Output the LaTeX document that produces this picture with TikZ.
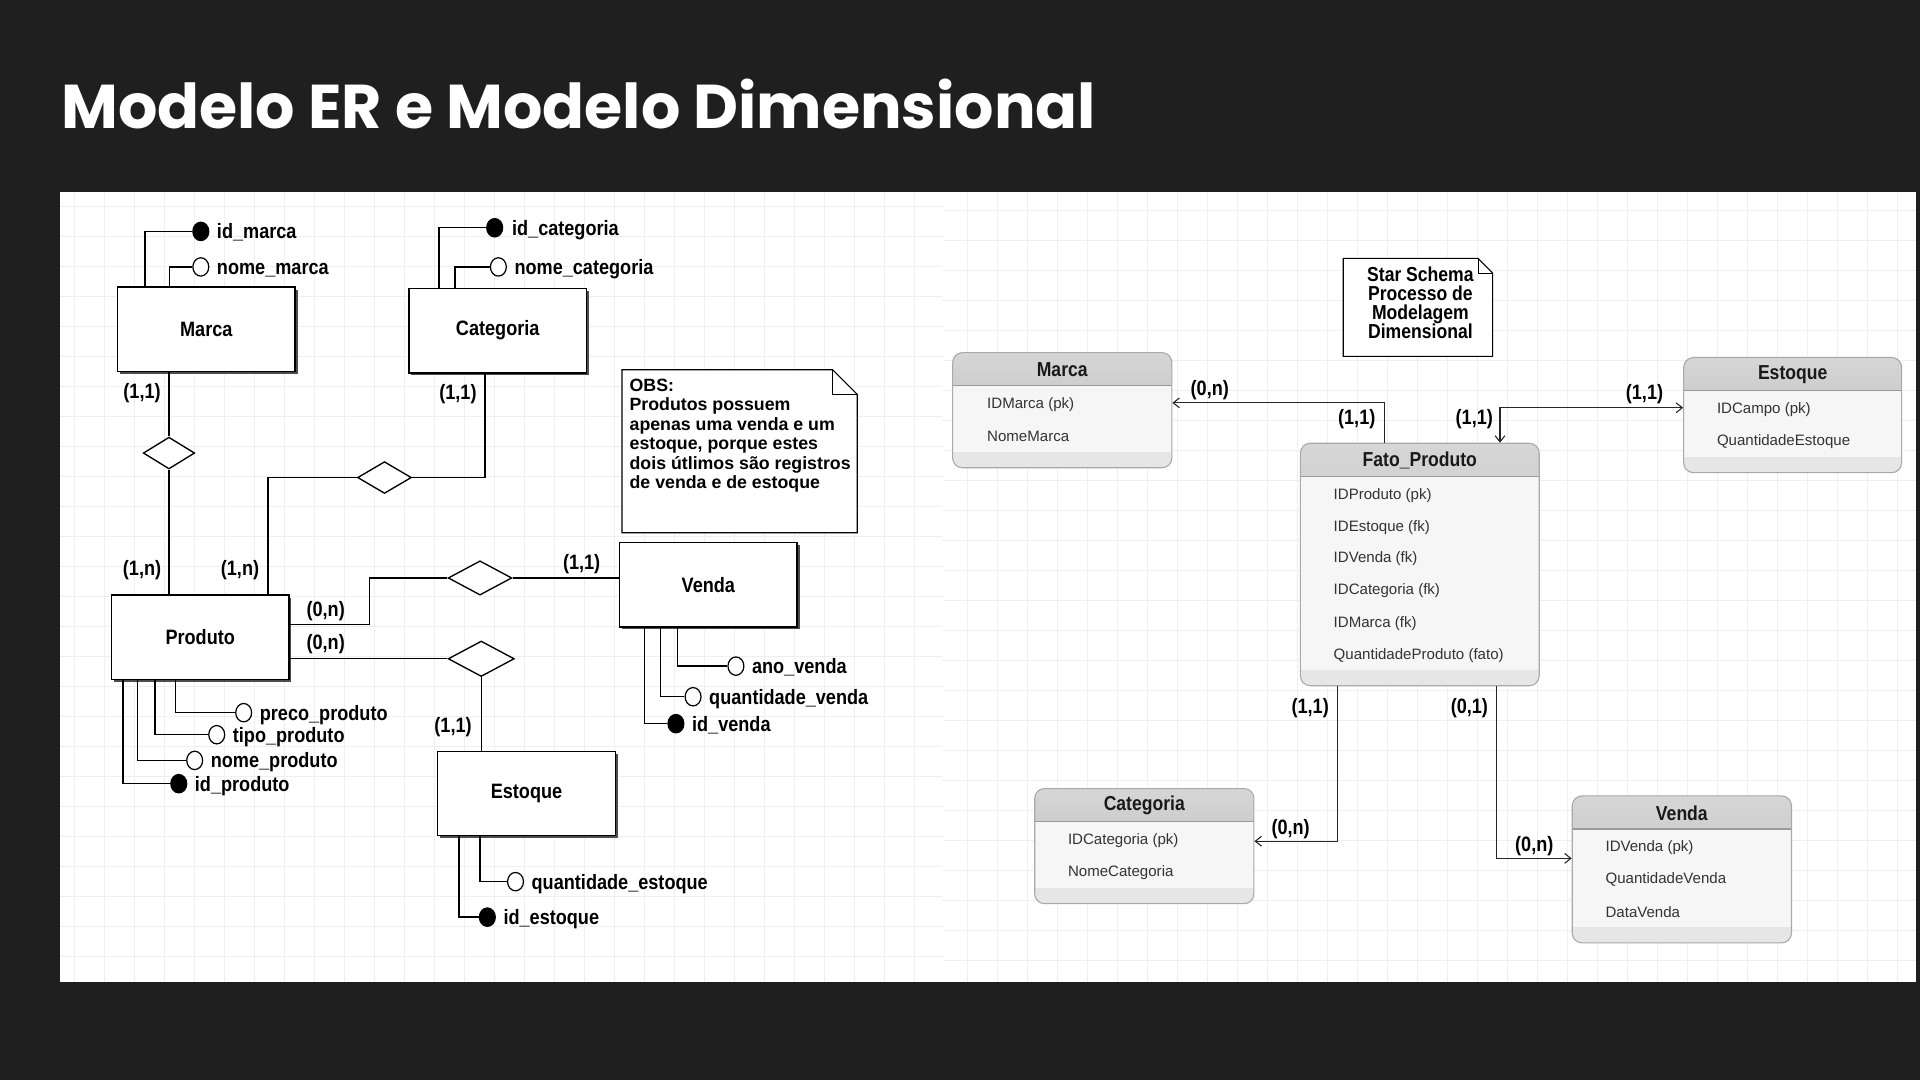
\documentclass[tikz,border=0pt]{standalone}
\usepackage{fontspec}
\setmainfont{Liberation Sans}
\newfontfamily\titlefont{Poppins}
\newfontfamily\erfont{Liberation Sans}[FakeStretch=0.87]
\newfontfamily\tabfont{Liberation Sans}
\usetikzlibrary{shapes.geometric,arrows.meta,shadows}
\definecolor{bgdark}{HTML}{1F1F1F}
\definecolor{gridl}{HTML}{EFEFEF}
\definecolor{gridr}{HTML}{EBF0F6}
\definecolor{tabborder}{HTML}{A9A9A9}
\definecolor{tabbody}{HTML}{F6F6F6}
\definecolor{hdtop}{HTML}{D6D6D6}
\definecolor{hdbot}{HTML}{B8B8B8}
\definecolor{hdline}{HTML}{999999}
\definecolor{tabfoot}{HTML}{E6E6E6}
\definecolor{rowtext}{HTML}{333333}
\tikzset{
  erfnt/.style={font=\erfont\bfseries\fontsize{17}{20}\selectfont},
  erbox/.style={draw, fill=white, line width=1.1pt, minimum width=145pt, minimum height=69pt,
    inner sep=0pt, erfnt,
    drop shadow={shadow xshift=2pt, shadow yshift=-2pt, fill=black!70, opacity=1}},
  erline/.style={draw=black, line width=1.1pt},
  attro/.style={ellipse, draw, fill=white, line width=1pt, minimum width=13pt, minimum height=15pt, inner sep=0pt},
  attrf/.style={attro, fill=black},
  attrtxt/.style={anchor=mid west, inner sep=0pt, erfnt, yshift=-3.5pt},
  card/.style={inner sep=0pt, erfnt},
  reln/.style={diamond, draw, fill=white, line width=1.1pt, inner sep=0pt},
  notetxt/.style={inner sep=0pt, align=left, anchor=north west,
    font=\bfseries\fontsize{14.5}{15.8}\selectfont},
  dimtab/.style={draw=tabborder, line width=0.9pt, rounded corners=8pt, fill=tabbody, inner sep=0pt,
    path picture={
      \shade[sharp corners, top color=hdtop, bottom color=hdbot]
        (path picture bounding box.north west) rectangle ([yshift=-27pt]path picture bounding box.north east);
      \draw[sharp corners, hdline, line width=1.2pt]
        ([yshift=-27pt]path picture bounding box.north west) -- ([yshift=-27pt]path picture bounding box.north east);
      \fill[sharp corners, tabfoot]
        ([yshift=13pt]path picture bounding box.south west) rectangle (path picture bounding box.south east);
    }},
  tabtitle/.style={inner sep=0pt, font=\erfont\bfseries\fontsize{16.5}{18}\selectfont, text=black!90},
  tabrow/.style={inner sep=0pt, anchor=west, text=rowtext, yshift=-1.5pt, font=\tabfont\fontsize{12.3}{14}\selectfont},
  arr/.style={draw=black!85, line width=0.9pt, -{Straight Barb[length=5pt,width=8pt]}},
  arrboth/.style={draw=black!85, line width=0.9pt, {Straight Barb[length=5pt,width=8pt]}-{Straight Barb[length=5pt,width=8pt]}}
}
\begin{document}
\begin{tikzpicture}[x=1pt,y=-1pt]
\useasboundingbox (0,0) rectangle (1568,882);
\fill[bgdark] (0,0) rectangle (1568,882);
\node[anchor=base west, text=white, inner sep=0pt, font=\titlefont\bfseries\fontsize{50.5}{56}\selectfont] (title) at (50,105) {Modelo ER e Modelo Dimensional};
% panel
\fill[white] (49,157) rectangle (1565,802);
\foreach \k in {0,...,28} \draw[gridl, line width=0.8pt] ({61+\k*24.5},157) -- ({61+\k*24.5},802);
\foreach \k in {0,...,25} \draw[gridl, line width=0.8pt] (49,{169+\k*24.5}) -- (770,{169+\k*24.5});
\foreach \k in {0,...,31} \draw[gridr, line width=0.8pt] ({790+\k*24.5},157) -- ({790+\k*24.5},802);
\foreach \k in {0,...,25} \draw[gridr, line width=0.8pt] (770,{172+\k*24.5}) -- (1565,{172+\k*24.5});

% ===== ER model =====
\node[erbox] (marca) at (168.5,269) {Marca};
\node[attrf] (idm) at (164,189) {};
\node[attrtxt] (idmt) at (177,189) {id\_marca};
\node[attro] (nm) at (164,218) {};
\node[attrtxt] (nmt) at (177,218) {nome\_marca};
\draw[erline] ([xshift=23pt]marca.north west) |- (idm.west);
\draw[erline] ([xshift=43pt]marca.north west) |- (nm.west);

\node[erbox] (cat) at (406.5,270) {Categoria};
\node[attrf] (idc) at (404,186) {};
\node[attrtxt] (idct) at (418,186) {id\_categoria};
\node[attro] (nc) at (407,218) {};
\node[attrtxt] (nct) at (420,218) {nome\_categoria};
\draw[erline] ([xshift=25pt]cat.north west) |- (idc.west);
\draw[erline] ([xshift=38pt]cat.north west) |- (nc.west);

\node[erbox] (prod) at (163.5,520.5) {Produto};
\node[attro] (pp) at (199,582) {};
\node[attrtxt] (ppt) at (212,582) {preco\_produto};
\node[attro] (tp) at (177,600) {};
\node[attrtxt] (tpt) at (190,600) {tipo\_produto};
\node[attro] (np) at (159,621) {};
\node[attrtxt] (npt) at (172,621) {nome\_produto};
\node[attrf] (ip) at (146,640) {};
\node[attrtxt] (ipt) at (159,640) {id\_produto};
\draw[erline] ([xshift=53pt]prod.south west) |- (pp.west);
\draw[erline] ([xshift=36pt]prod.south west) |- (tp.west);
\draw[erline] ([xshift=22pt]prod.south west) |- (np.west);
\draw[erline] ([xshift=10pt]prod.south west) |- (ip.west);

\node[erbox] (venda) at (578.5,477.5) {Venda};
\node[attro] (av) at (601,544) {};
\node[attrtxt] (avt) at (614,544) {ano\_venda};
\node[attro] (qv) at (566,569) {};
\node[attrtxt] (qvt) at (579,569) {quantidade\_venda};
\node[attrf] (iv) at (552,591) {};
\node[attrtxt] (ivt) at (565,591) {id\_venda};
\draw[erline] ([xshift=48pt]venda.south west) |- (av.west);
\draw[erline] ([xshift=34pt]venda.south west) |- (qv.west);
\draw[erline] ([xshift=21pt]venda.south west) |- (iv.west);

\node[erbox] (est) at (430,648) {Estoque};
\node[attro] (qe) at (421,720) {};
\node[attrtxt] (qet) at (434,720) {quantidade\_estoque};
\node[attrf] (ie) at (398,749) {};
\node[attrtxt] (iet) at (411,749) {id\_estoque};
\draw[erline] ([xshift=35pt]est.south west) |- (qe.west);
\draw[erline] ([xshift=18pt]est.south west) |- (ie.west);

% relationships
\node[reln, minimum width=42pt, minimum height=26pt] (r1) at (138,370) {};
\node[reln, minimum width=44pt, minimum height=26pt] (r2) at (314,390) {};
\node[reln, minimum width=52pt, minimum height=28pt] (r3) at (392,472) {};
\node[reln, minimum width=54pt, minimum height=29pt] (r4) at (393,538) {};
\draw[erline] (r1.north |- marca.south) -- (r1.north);
\draw[erline] (r1.south) -- (r1.south |- prod.north);
\draw[erline] ([xshift=-10.5pt]cat.south) |- (r2.east);
\draw[erline] (r2.west) -| ([xshift=55.5pt]prod.north);
\draw[erline] ([yshift=10.5pt]prod.east) -- ++(65,0) |- (r3.west);
\draw[erline] (r3.east) -- (venda.west |- r3.east);
\draw[erline] (r4.west -| prod.east) -- (r4.west);
\draw[erline] (r4.south) -- (r4.south |- est.north);

% cardinalities
\node[card] (c1) at (116,321) {(1,1)};
\node[card] (c2) at (116,466) {(1,n)};
\node[card] (c3) at (374,322) {(1,1)};
\node[card] (c4) at (196,466) {(1,n)};
\node[card] (c5) at (266,499) {(0,n)};
\node[card] (c6) at (475,461) {(1,1)};
\node[card] (c7) at (266,526) {(0,n)};
\node[card] (c8) at (370,594) {(1,1)};

% OBS note
\draw[line width=1pt, fill=white] (508,302) -- (680,302) -- (700,322) -- (700,435) -- (508,435) -- cycle;
\draw[line width=0.8pt] (680,302) -- (680,322) -- (700,322);
\node[notetxt] (obs) at (514,309.5) {OBS:\\Produtos possuem\\apenas uma venda e um\\estoque, porque estes\\dois útlimos são registros\\de venda e de estoque};

% ===== Dimensional model =====
\draw[line width=0.9pt, fill=white] (1097,211) -- (1207,211) -- (1219,223) -- (1219,291) -- (1097,291) -- cycle;
\draw[line width=0.7pt] (1207,211) -- (1207,223) -- (1219,223);
\node[inner sep=0pt, align=center, font=\erfont\bfseries\fontsize{16.5}{15.5}\selectfont] (star) at (1160,247) {Star Schema\\Processo de\\Modelagem\\Dimensional};

\node[dimtab, minimum width=179pt, minimum height=94pt] (tmarca) at (867.5,335) {};
\node[tabtitle] (tmarcah) at (867.5,302) {Marca};
\node[tabrow] (tm1) at (806,329) {IDMarca (pk)};
\node[tabrow] (tm2) at (806,355) {NomeMarca};

\node[dimtab, minimum width=195pt, minimum height=198pt] (tfato) at (1159.5,461) {};
\node[tabtitle] (tfatoh) at (1159.5,376) {Fato\_Produto};
\node[tabrow] (tf1) at (1089,403) {IDProduto (pk)};
\node[tabrow] (tf2) at (1089,429) {IDEstoque (fk)};
\node[tabrow] (tf3) at (1089,455) {IDVenda (fk)};
\node[tabrow] (tf4) at (1089,481) {IDCategoria (fk)};
\node[tabrow] (tf5) at (1089,508) {IDMarca (fk)};
\node[tabrow] (tf6) at (1089,534) {QuantidadeProduto (fato)};

\node[dimtab, minimum width=178pt, minimum height=94pt] (test) at (1464,339) {};
\node[tabtitle] (testh) at (1464,306) {Estoque};
\node[tabrow] (te1) at (1402,333) {IDCampo (pk)};
\node[tabrow] (te2) at (1402,359) {QuantidadeEstoque};

\node[dimtab, minimum width=179pt, minimum height=94pt] (tcat) at (934.5,691) {};
\node[tabtitle] (tcath) at (934.5,658) {Categoria};
\node[tabrow] (tc1) at (872,685) {IDCategoria (pk)};
\node[tabrow] (tc2) at (872,711) {NomeCategoria};

\node[dimtab, minimum width=179pt, minimum height=120pt] (tven) at (1373.5,710) {};
\node[tabtitle] (tvenh) at (1373.5,664) {Venda};
\node[tabrow] (tv1) at (1311,691) {IDVenda (pk)};
\node[tabrow] (tv2) at (1311,717) {QuantidadeVenda};
\node[tabrow] (tv3) at (1311,743) {DataVenda};

\draw[arr] ([xshift=-28.5pt]tfato.north) |- ([yshift=6pt]tmarca.east);
\draw[arrboth] ([yshift=6pt]test.west) -| ([xshift=65.5pt]tfato.north);
\draw[arr] ([xshift=-67.5pt]tfato.south) |- ([yshift=4pt]tcat.east);
\draw[arr] ([xshift=62.5pt]tfato.south) |- ([yshift=9pt]tven.west);

\node[card] (d1) at (988,319) {(0,n)};
\node[card] (d2) at (1108,342) {(1,1)};
\node[card] (d3) at (1343,322) {(1,1)};
\node[card] (d4) at (1204,342) {(1,1)};
\node[card] (d5) at (1070,578) {(1,1)};
\node[card] (d6) at (1200,578) {(0,1)};
\node[card] (d7) at (1054,677) {(0,n)};
\node[card] (d8) at (1253,691) {(0,n)};
\end{tikzpicture}
\end{document}
